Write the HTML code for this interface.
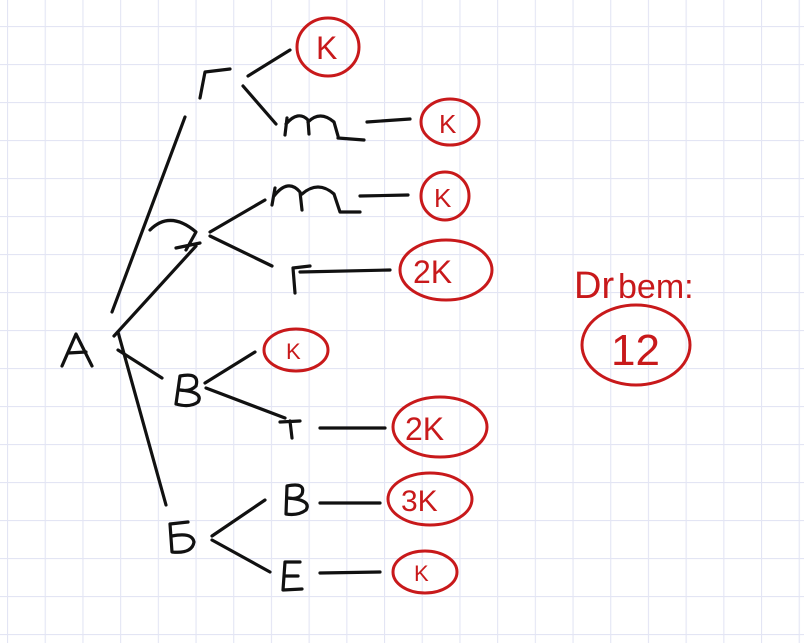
<!DOCTYPE html>
<html><head><meta charset="utf-8"><style>
html,body{margin:0;padding:0;background:#fff;}
svg{display:block}
</style></head><body>
<svg width="804" height="643" viewBox="0 0 804 643" xmlns="http://www.w3.org/2000/svg">
<defs>
<pattern id="g" x="7" y="26" width="37.7" height="38" patternUnits="userSpaceOnUse">
<path d="M0 0V38M0 0H37.7" stroke="#e3e5f4" stroke-width="2.2" fill="none"/>
</pattern>
</defs>
<rect width="804" height="643" fill="#fff"/>
<rect width="804" height="643" fill="url(#g)"/>
<g stroke="#111" stroke-width="3.2" fill="none" stroke-linecap="round" stroke-linejoin="round">
<path d="M62 366 L76 334 L92 366 M68 353 L86 352"/>
<path d="M112 312 L185 117"/>
<path d="M114 336 L196 246"/>
<path d="M118 350 L162 378"/>
<path d="M118 332 L166 505"/>
<path d="M200 98 L205 72 L230 69"/>
<path d="M248 76 L290 50"/>
<path d="M243 86 L276 124"/>
<path d="M285 135 L287 118 M286 124 Q298 110 308 120 L309 134 M308 122 Q320 110 334 122 L338 136"/>
<path d="M338 138 L364 140"/>
<path d="M367 122 L410 119"/>
<path d="M150 230 Q170 210 196 232 L186 250 M176 248 L200 243"/>
<path d="M210 232 L265 200"/>
<path d="M210 236 L272 266"/>
<path d="M272 205 L275 188 M274 196 Q288 178 300 192 L302 210 M302 194 Q318 180 334 194 L340 212 L360 212"/>
<path d="M360 196 L408 195"/>
<path d="M295 293 L293 268 L310 266"/>
<path d="M300 272 L390 270"/>
<path d="M176 404 L180 376 Q200 372 196 386 Q190 392 180 390 Q204 392 198 402 Q190 408 176 404"/>
<path d="M205 383 L255 352"/>
<path d="M206 388 L285 418"/>
<path d="M280 422 L300 421 M290 421 L292 438"/>
<path d="M320 428 L385 428"/>
<path d="M188 522 L170 524 L172 552 Q192 554 194 542 Q192 532 172 536"/>
<path d="M212 536 L265 500"/>
<path d="M212 540 L270 572"/>
<path d="M286 514 L287 486 Q306 482 302 494 Q298 500 288 498 Q312 500 306 510 Q298 516 286 514"/>
<path d="M320 503 L380 503"/>
<path d="M300 562 L285 562 L283 590 L302 589 M284 576 L298 576"/>
<path d="M320 573 L380 572"/>
</g>
<g stroke="#c8191b" stroke-width="3" fill="none" stroke-linecap="round">
<ellipse cx="328" cy="47" rx="31" ry="29"/>
<ellipse cx="450" cy="122" rx="29" ry="23"/>
<ellipse cx="445" cy="196" rx="24" ry="24"/>
<ellipse cx="446" cy="270" rx="46" ry="30"/>
<ellipse cx="296" cy="350" rx="32" ry="21"/>
<ellipse cx="440" cy="427" rx="47" ry="30"/>
<ellipse cx="430" cy="499" rx="42" ry="26"/>
<ellipse cx="425" cy="572" rx="32" ry="21"/>
<ellipse cx="636" cy="345" rx="54" ry="40"/>
</g>
<g fill="#c8191b" font-family="Liberation Sans, sans-serif">
<text x="316" y="59" font-size="32">K</text>
<text x="439" y="133" font-size="26">K</text>
<text x="434" y="207" font-size="26">K</text>
<text x="413" y="283" font-size="32">2K</text>
<text x="286" y="359" font-size="22">K</text>
<text x="405" y="440" font-size="32">2K</text>
<text x="401" y="511" font-size="30">3K</text>
<text x="414" y="581" font-size="22">K</text>
<text x="574" y="298" font-size="38">Dr</text>
<text x="618" y="298" font-size="34">bem:</text>
<text x="611" y="365" font-size="44">12</text>
</g>
</svg>
</body></html>
